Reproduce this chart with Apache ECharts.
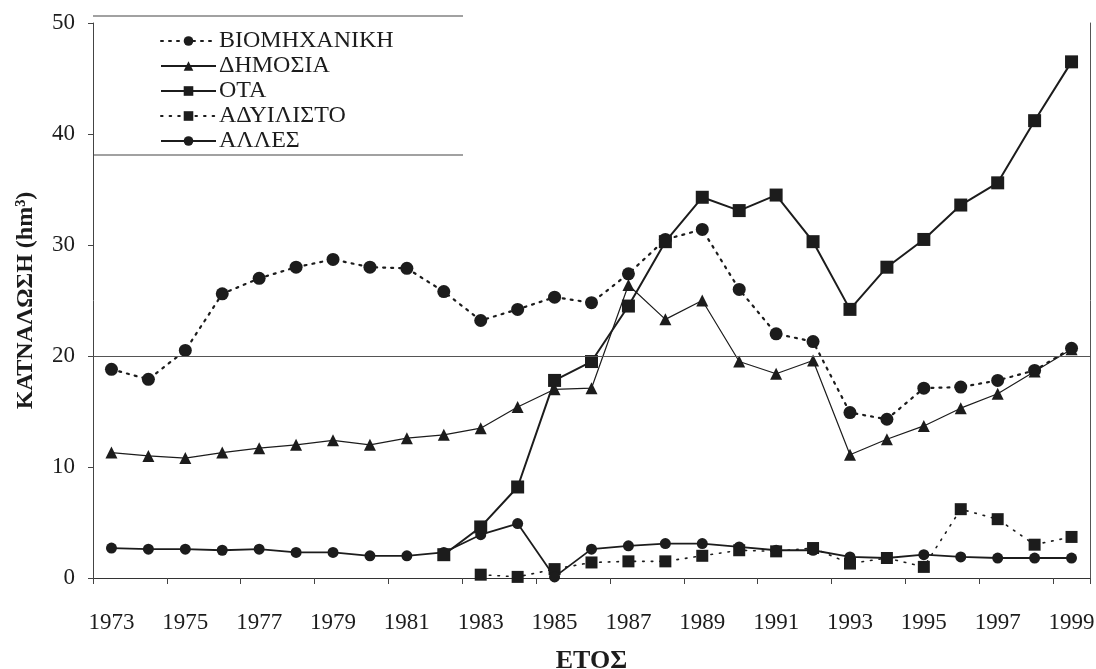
<!DOCTYPE html>
<html>
<head>
<meta charset="utf-8">
<script src="https://cdn.jsdelivr.net/npm/echarts@6/dist/echarts.min.js"></script>
<style>
  html, body { margin: 0; padding: 0; background: #fff; }
  #chart { width: 1096px; height: 669px; }
</style>
</head>
<body>
<div id="chart"></div>
<script>
// Annual water consumption (hm³) by user category, 1973–1999
const years = ['1973','1974','1975','1976','1977','1978','1979','1980','1981','1982','1983','1984','1985',
               '1986','1987','1988','1989','1990','1991','1992','1993','1994','1995','1996','1997','1998','1999'];

const biomixaniki = [18.8,17.9,20.5,25.6,27.0,28.0,28.7,28.0,27.9,25.8,23.2,24.2,25.3,
                     24.8,27.4,30.5,31.4,26.0,22.0,21.3,14.9,14.3,17.1,17.2,17.8,18.7,20.7];

const dimosia = [11.3,11.0,10.8,11.3,11.7,12.0,12.4,12.0,12.6,12.9,13.5,15.4,17.0,
                 17.1,26.4,23.3,25.0,19.5,18.4,19.6,11.1,12.5,13.7,15.3,16.6,18.6,20.6];

const ota = [null,null,null,null,null,null,null,null,null,2.1,4.6,8.2,17.8,
             19.5,24.5,30.3,34.3,33.1,34.5,30.3,24.2,28.0,30.5,33.6,35.6,41.2,46.5];

const adyilisto = [null,null,null,null,null,null,null,null,null,null,0.3,0.1,0.8,
                   1.4,1.5,1.5,2.0,2.5,2.4,2.7,1.3,1.8,1.0,6.2,5.3,3.0,3.7];

const alles = [2.7,2.6,2.6,2.5,2.6,2.3,2.3,2.0,2.0,2.3,3.9,4.9,0.1,
               2.6,2.9,3.1,3.1,2.8,2.5,2.5,1.9,1.8,2.1,1.9,1.8,1.8,1.8];

const seriesNames = ['ΒΙΟΜΗΧΑΝΙΚΗ', 'ΔΗΜΟΣΙΑ', 'ΟΤΑ', 'ΑΔΥΙΛΙΣΤΟ', 'ΑΛΛΕΣ'];
const referenceLevel = 20;

const ink = '#1c1c1c';
const serif = '"Liberation Serif", "DejaVu Serif", serif';

const chart = echarts.init(document.getElementById('chart'), null, { renderer: 'canvas' });

chart.setOption({
  animation: false,
  backgroundColor: '#ffffff',
  textStyle: { fontFamily: serif, color: ink },
  grid: { left: 93, right: 6, top: 23, bottom: 91, containLabel: false, outerBoundsMode: 'none' },
  legend: {
    orient: 'vertical',
    left: 160,
    top: 29,
    data: seriesNames,
    itemWidth: 55,
    itemHeight: 12,
    itemGap: 1,
    padding: 0,
    textStyle: { fontFamily: serif, fontSize: 24, color: ink, lineHeight: 21, padding: [0, 0, 0, -2] },
    selectedMode: false
  },
  graphic: [
    { type: 'line', shape: { x1: 93, y1: 16, x2: 463, y2: 16 }, style: { stroke: '#444', lineWidth: 1.2 }, silent: true },
    { type: 'line', shape: { x1: 93, y1: 155, x2: 463, y2: 155 }, style: { stroke: '#444', lineWidth: 1.2 }, silent: true }
  ],
  xAxis: {
    type: 'category',
    data: years,
    boundaryGap: true,
    name: 'ΕΤΟΣ',
    nameLocation: 'middle',
    nameGap: 70,
    nameTextStyle: { fontFamily: serif, fontSize: 26, fontWeight: 'bold', color: ink },
    axisLine: { show: true, lineStyle: { color: '#333', width: 1.2 } },
    axisTick: { show: true, interval: 1, length: 6, lineStyle: { color: '#444' } },
    axisLabel: { interval: 1, margin: 33, fontFamily: serif, fontSize: 23, color: ink },
    splitLine: { show: false }
  },
  yAxis: [
    {
      type: 'value',
      min: 0,
      max: 50,
      interval: 10,
      name: 'ΚΑΤΝΑΛΩΣΗ (hm³)',
      nameLocation: 'middle',
      nameGap: 55,
      nameRotate: 90,
      nameTextStyle: { fontFamily: serif, fontSize: 24, fontWeight: 'bold', color: ink },
      axisLine: { show: true, lineStyle: { color: '#444', width: 1 } },
      axisTick: { show: true, length: 5, lineStyle: { color: '#444' } },
      axisLabel: { margin: 18, fontFamily: serif, fontSize: 23, color: ink },
      splitLine: { show: false }
    },
    {
      type: 'value',
      min: 0,
      max: 50,
      position: 'right',
      axisLine: { show: true, lineStyle: { color: '#555', width: 1 } },
      axisTick: { show: false },
      axisLabel: { show: false },
      splitLine: { show: false }
    }
  ],
  series: [
    {
      name: seriesNames[0],
      type: 'line',
      data: biomixaniki,
      symbol: 'circle',
      symbolSize: 13,
      itemStyle: { color: ink },
      lineStyle: { color: ink, width: 2.2, type: [2, 6], cap: 'round' },
      z: 3
    },
    {
      name: seriesNames[1],
      type: 'line',
      data: dimosia,
      symbol: 'triangle',
      symbolSize: 12,
      itemStyle: { color: ink },
      lineStyle: { color: ink, width: 1.2 },
      markLine: {
        silent: true,
        symbol: 'none',
        label: { show: false },
        lineStyle: { color: '#555', width: 1.2, type: 'solid' },
        data: [{ yAxis: referenceLevel }]
      },
      z: 3
    },
    {
      name: seriesNames[2],
      type: 'line',
      data: ota,
      symbol: 'rect',
      symbolSize: 13,
      itemStyle: { color: ink },
      lineStyle: { color: ink, width: 2 },
      z: 4
    },
    {
      name: seriesNames[3],
      type: 'line',
      data: adyilisto,
      symbol: 'rect',
      symbolSize: 12,
      itemStyle: { color: ink },
      lineStyle: { color: ink, width: 1.6, type: [1.6, 7], cap: 'round' },
      z: 3
    },
    {
      name: seriesNames[4],
      type: 'line',
      data: alles,
      symbol: 'circle',
      symbolSize: 11,
      itemStyle: { color: ink },
      lineStyle: { color: ink, width: 1.8 },
      z: 3
    }
  ]
});
</script>
</body>
</html>
